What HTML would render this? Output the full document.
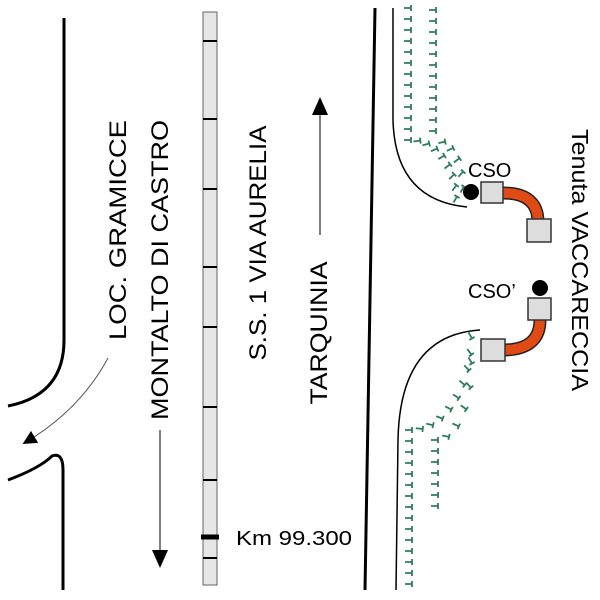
<!DOCTYPE html>
<html><head><meta charset="utf-8"><style>
html,body{margin:0;padding:0;background:#fff}
svg{display:block}
text{font-family:"Liberation Sans",Arial,sans-serif;fill:#000}
</style></head><body>
<svg id="s" width="600" height="600" viewBox="0 0 600 600" xmlns="http://www.w3.org/2000/svg">
<defs>
<marker id="ah" markerWidth="14" markerHeight="14" refX="10" refY="7" orient="auto" markerUnits="userSpaceOnUse"><path d="M0,0 L14,7 L0,14 z" fill="#000"/></marker>
</defs>
<path d="M64,18 L64,340 Q64,395 8,406" fill="none" stroke="#000" stroke-width="3"/>
<path d="M8,480 Q40,468 52,456 Q63,452 63,470 L63,590" fill="none" stroke="#000" stroke-width="3"/>
<path d="M108,358 Q80,410 26,442" fill="none" stroke="#555" stroke-width="1" marker-end="url(#ah)"/>
<rect x="203" y="12" width="14" height="573" fill="#e6e6e6" stroke="#666" stroke-width="1"/>
<g stroke="#000" stroke-width="2">
<line x1="203" y1="41" x2="217" y2="41"/><line x1="203" y1="119" x2="217" y2="119"/>
<line x1="203" y1="189" x2="217" y2="189"/><line x1="203" y1="267" x2="217" y2="267"/>
<line x1="203" y1="327" x2="217" y2="327"/><line x1="203" y1="407" x2="217" y2="407"/>
<line x1="203" y1="480" x2="217" y2="480"/><line x1="203" y1="558" x2="217" y2="558"/>
<line x1="201" y1="537" x2="219" y2="537" stroke-width="5"/>
</g>
<text x="236" y="545" font-size="20" textLength="116" lengthAdjust="spacingAndGlyphs">Km 99.300</text>
<text transform="translate(126,230) rotate(-90)" font-size="24" text-anchor="middle" textLength="220" lengthAdjust="spacingAndGlyphs">LOC. GRAMICCE</text>
<text transform="translate(168,270) rotate(-90)" font-size="24" text-anchor="middle" textLength="300" lengthAdjust="spacingAndGlyphs">MONTALTO DI CASTRO</text>
<line x1="160" y1="430" x2="160" y2="555" stroke="#000" stroke-width="1"/>
<path d="M152,550 L168,550 L160,568 z" fill="#000"/>
<text transform="translate(266,243) rotate(-90)" font-size="24" text-anchor="middle" textLength="235" lengthAdjust="spacingAndGlyphs">S.S. 1  VIA  AURELIA</text>
<text transform="translate(327,333) rotate(-90)" font-size="24" text-anchor="middle" textLength="143" lengthAdjust="spacingAndGlyphs">TARQUINIA</text>
<line x1="320" y1="235" x2="320" y2="110" stroke="#000" stroke-width="1"/>
<path d="M312,115 L328,115 L320,97 z" fill="#000"/>
<line x1="375" y1="8" x2="365" y2="590" stroke="#000" stroke-width="3"/>
<path d="M393,8 L393,120 Q395,200 467,207" fill="none" stroke="#000" stroke-width="1.5"/>
<path d="M480,330 Q400,335 398,440 L396,590" fill="none" stroke="#000" stroke-width="1.5"/>
<g id="g" stroke="#2e7d5a" stroke-width="1.8" fill="none"></g>
<text x="468" y="177" font-size="20">CSO</text>
<path d="M503,193 Q538,193 538,222" fill="none" stroke="#222" stroke-width="13"/>
<path d="M503,193 Q538,193 538,222" fill="none" stroke="#e04a14" stroke-width="10"/>
<circle cx="471" cy="192" r="8" fill="#000"/>
<rect x="481" y="182" width="22" height="21" fill="#ddd" stroke="#333" stroke-width="1.5"/>
<rect x="527" y="219" width="24" height="23" fill="#ddd" stroke="#333" stroke-width="1.5"/>
<text x="468" y="298" font-size="20">CSO’</text>
<path d="M540,320 Q540,349 505,350" fill="none" stroke="#222" stroke-width="13"/>
<path d="M540,320 Q540,349 505,350" fill="none" stroke="#e04a14" stroke-width="10"/>
<circle cx="540" cy="288" r="8" fill="#000"/>
<rect x="528" y="298" width="23" height="22" fill="#ddd" stroke="#333" stroke-width="1.5"/>
<rect x="481" y="339" width="24" height="22" fill="#ddd" stroke="#333" stroke-width="1.5"/>
<text transform="translate(572,260) rotate(90)" font-size="23" text-anchor="middle" textLength="262" lengthAdjust="spacingAndGlyphs">Tenuta  VACCARECCIA</text>
</svg>
<script>
var g=document.getElementById('g'),ns='http://www.w3.org/2000/svg';
function m(x,y,a){var p=document.createElementNS(ns,'path');
p.setAttribute('d','M-3,0 L4,0 M4,-3 L4,3');
p.setAttribute('transform','translate('+x+','+y+') rotate('+a+')');g.appendChild(p);}
function col(x,y0,y1,st){for(var y=y0;y<=y1;y+=st)m(x,y,0);}
function arc(x0,y0,x1,y1,n,a0,a1){for(var i=1;i<=n;i++){var t=i/n;
var x=x0+(x1-x0)*Math.sin(t*Math.PI/2),y=y0+(y1-y0)*(1-Math.cos(t*Math.PI/2));
m(x,y,a0+(a1-a0)*t);}}
col(407,8,140,11);arc(407,140,455,200,8,0,-60);
col(432,10,140,11);arc(432,140,462,190,5,0,-60);
col(408,430,588,11);arc(408,430,470,335,9,0,60);
col(434,440,515,11);arc(434,440,470,360,5,0,60);
</script>
</body></html>
